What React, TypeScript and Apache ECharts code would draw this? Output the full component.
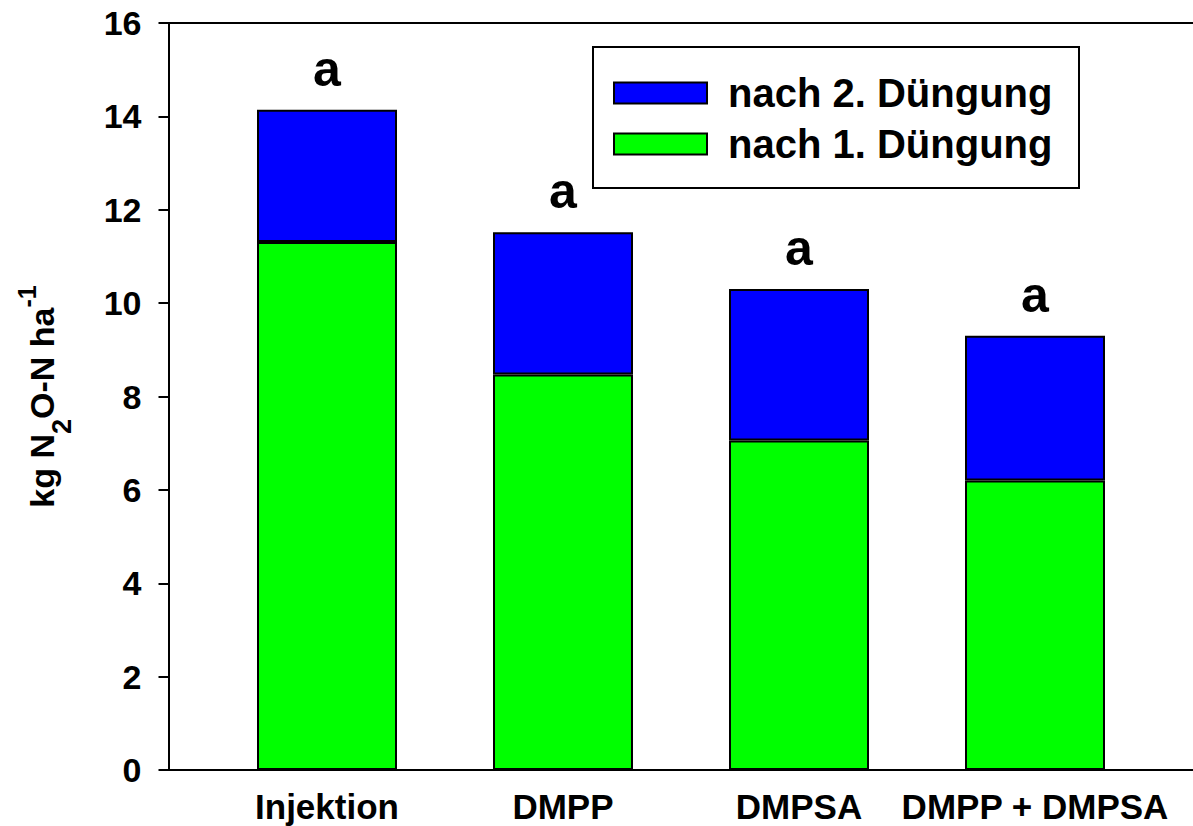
import React, { useEffect, useRef } from "react";
import * as echarts from "echarts";

const categories = ["Injektion", "DMPP", "DMPSA", "DMPP + DMPSA"];
const afterFirst = [11.31, 8.47, 7.06, 6.2];
const afterSecond = [2.83, 3.05, 3.24, 3.1];
const letters = ["a", "a", "a", "a"];
const seriesNames = ["nach 2. Düngung", "nach 1. Düngung"];
const yMin = 0;
const yMax = 16;
const yStep = 2;

const FONT = "'Liberation Sans', Arial, Helvetica, sans-serif";

export default function App() {
  const ref = useRef<HTMLDivElement>(null);
  useEffect(() => {
    document.body.style.margin = "0";
    if (!ref.current) return;
    const chart = echarts.init(ref.current, undefined, { renderer: "svg" });
    const top = 23;
    const height = 747;
    chart.setOption({
      animation: false,
      backgroundColor: "#ffffff",
      textStyle: { fontFamily: FONT, color: "#000" },
      grid: [
        { left: 162, top, width: 1100, height },
        { left: 209, top, width: 944, height },
      ],
      xAxis: [
        {
          type: "value",
          gridIndex: 0,
          position: "bottom",
          min: 0,
          max: 1,
          axisLine: { show: true, lineStyle: { color: "#000", width: 2 } },
          axisTick: { show: false },
          axisLabel: { show: false },
          splitLine: { show: false },
        },
        {
          type: "value",
          gridIndex: 0,
          position: "top",
          min: 0,
          max: 1,
          axisLine: { show: true, onZero: false, lineStyle: { color: "#000", width: 2 } },
          axisTick: { show: false },
          axisLabel: { show: false },
          splitLine: { show: false },
        },
        {
          type: "category",
          gridIndex: 1,
          data: categories,
          axisLine: { show: false },
          axisTick: { show: false },
          axisLabel: {
            fontSize: 35,
            fontWeight: "bold",
            fontFamily: FONT,
            color: "#000",
            margin: 19,
            interval: 0,
          },
        },
      ],
      yAxis: [
        {
          type: "value",
          gridIndex: 0,
          min: yMin,
          max: yMax,
          interval: yStep,
          axisLine: { show: true, lineStyle: { color: "#000", width: 2 } },
          axisTick: { show: true, length: 10, lineStyle: { color: "#000", width: 2 } },
          axisLabel: {
            fontSize: 34,
            fontWeight: "bold",
            fontFamily: FONT,
            color: "#000",
            margin: 27,
          },
          splitLine: { show: false },
          name: "{m|kg N}{s|2}{m|O-N ha}{p|-1}",
          nameLocation: "middle",
          nameRotate: 90,
          nameGap: 110,
          nameTextStyle: {
            fontFamily: FONT,
            fontWeight: "bold",
            color: "#000",
            rich: {
              m: { fontSize: 34, lineHeight: 34, fontWeight: "bold", fontFamily: FONT, color: "#000" },
              s: {
                fontSize: 27,
                lineHeight: 27,
                fontWeight: "bold",
                fontFamily: FONT,
                color: "#000",
                padding: [40, 0, 0, 0],
              },
              p: {
                fontSize: 25,
                lineHeight: 25,
                fontWeight: "bold",
                fontFamily: FONT,
                color: "#000",
                padding: [0, 0, 30, 0],
              },
            },
          },
        },
        {
          type: "value",
          gridIndex: 1,
          min: yMin,
          max: yMax,
          interval: yStep,
          show: false,
          splitLine: { show: false },
        },
      ],
      legend: {
        data: seriesNames,
        orient: "vertical",
        left: 613,
        top: 73,
        padding: 0,
        itemWidth: 93,
        itemHeight: 21,
        itemGap: 11,
        icon: "rect",
        textStyle: {
          fontSize: 40,
          fontWeight: "bold",
          fontFamily: FONT,
          color: "#000",
          lineHeight: 31,
          padding: [0, 0, 0, 16],
        },
      },
      graphic: [
        {
          type: "rect",
          shape: { x: 593, y: 47, width: 486, height: 141 },
          style: { fill: "none", stroke: "#000", lineWidth: 2 },
          silent: true,
        },
      ],
      series: [
        {
          name: seriesNames[1],
          type: "bar",
          xAxisIndex: 2,
          yAxisIndex: 1,
          stack: "total",
          barWidth: 140,
          data: afterFirst,
          itemStyle: { color: "#00ff00", borderColor: "#000", borderWidth: 2 },
        },
        {
          name: seriesNames[0],
          type: "bar",
          xAxisIndex: 2,
          yAxisIndex: 1,
          stack: "total",
          barWidth: 140,
          data: afterSecond,
          itemStyle: { color: "#0000ff", borderColor: "#000", borderWidth: 2 },
          label: {
            show: true,
            position: "top",
            distance: 16,
            fontSize: 50,
            fontWeight: "bold",
            fontFamily: FONT,
            color: "#000",
            formatter: (p: any) => letters[p.dataIndex],
          },
        },
      ],
    });
    return () => chart.dispose();
  }, []);
  return <div ref={ref} style={{ width: 1193, height: 826 }} />;
}
